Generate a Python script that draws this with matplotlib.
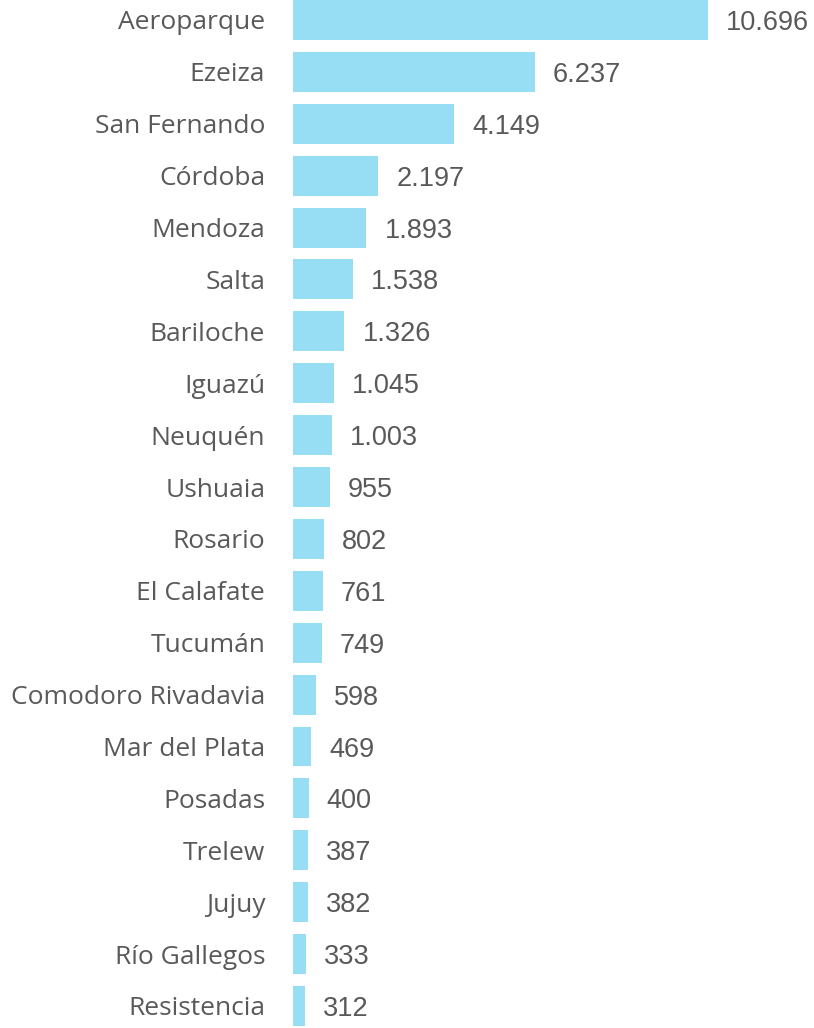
import matplotlib.pyplot as plt

aeropuertos = ["Aeroparque", "Ezeiza", "San Fernando", "Córdoba", "Mendoza",
               "Salta", "Bariloche", "Iguazú", "Neuquén", "Ushuaia",
               "Rosario", "El Calafate", "Tucumán", "Comodoro Rivadavia",
               "Mar del Plata", "Posadas", "Trelew", "Jujuy", "Río Gallegos",
               "Resistencia"]
vuelos = [10696, 6237, 4149, 2197, 1893, 1538, 1326, 1045, 1003, 955,
          802, 761, 749, 598, 469, 400, 387, 382, 333, 312]

fig = plt.figure(figsize=(8.14, 10.28), dpi=100)
ax = fig.add_axes([293 / 814, 0, 521 / 814, 1])

y = range(len(aeropuertos))
bars = ax.barh(y, vuelos, height=0.77, color="#97DEF5")

# miles con punto, como en castellano
etiquetas = [f"{v:,}".replace(",", ".") for v in vuelos]
textos = ax.bar_label(bars, labels=etiquetas, padding=13, fontsize=19.5,
                      family="Liberation Sans", color="#595959")
for t in textos:
    t.set_va("center_baseline")

ax.set_yticks(list(y))
ax.set_yticklabels(aeropuertos, fontsize=19, family="Open Sans", color="#595959")
ax.tick_params(axis="y", length=0, pad=20)
ax.set_xticks([])
ax.set_xlim(0, 521 * 10696 / 415)
ax.set_ylim(len(aeropuertos) - 1 + 0.424, -0.385)
for s in ax.spines.values():
    s.set_visible(False)

fig.savefig("out.png", dpi=100)
